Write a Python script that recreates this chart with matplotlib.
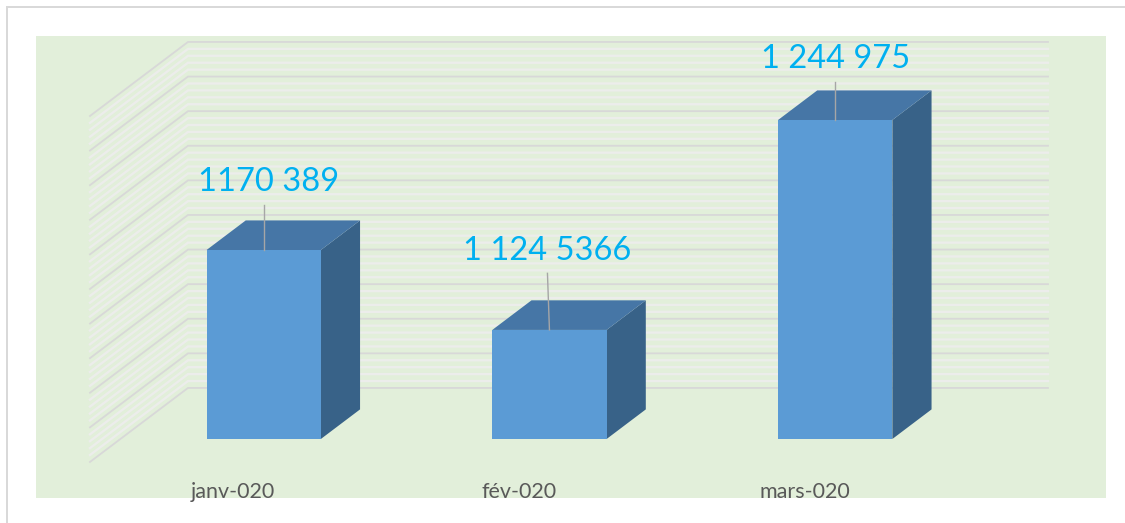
import numpy as np
from matplotlib import pyplot as plt
from matplotlib.patches import Polygon, Rectangle

months = ["janv-020", "fév-020", "mars-020"]
values = [1170389, 1124536, 1244975]
value_labels = ["1170 389", "1 124 5366", "1 244 975"]
leader_tops = [1196500, 1157000, 1267000]
leader_lean = [0.0, -0.007, 0.0]
label_shift = [0.016, -0.007, 0.0]

W, H = 1125, 523
base_value = 1061960
px_per_value = 130 / 74586
grid_step = 19850
cat_px = 285.75
cat0_px = 263.7
base_px = 439

# depth of the box, front of the walls is d=0, back wall is d=1
depth_x = 98 / cat_px
depth_y = 74 / px_per_value
bar_d0 = 0.31
bar_d1 = 0.71
bar_w = 0.4

plt.rcParams['font.family'] = ['Lato', 'DejaVu Sans']
fig = plt.figure(figsize=(W / 100, H / 100), dpi=100)
ax = fig.add_axes([0, 0, 1, 1])
ax.set_zorder(5)
ax.set_xlim(-cat0_px / cat_px, (W - cat0_px) / cat_px)
ax.set_ylim(base_value - (H - base_px) / px_per_value, base_value + base_px / px_per_value)
ax.axis('off')


def px_box(x0, y0, x1, y1, **kw):
    # x/y in figure pixels from top left, for the frame and the background
    fig.patches.append(Rectangle((x0 / W, 1 - y1 / H), (x1 - x0) / W, (y1 - y0) / H,
                                 transform=fig.transFigure, figure=fig, **kw))


def project(cat, value, d):
    return cat + (d - bar_d0) * depth_x, value + (d - bar_d0) * depth_y


px_box(36, 36, 1106, 498, facecolor='#e2efda', edgecolor='none', zorder=0)
px_box(6, 6, 8, H, facecolor='#d9d9d9', edgecolor='none', zorder=0)
px_box(6, 6, W, 8, facecolor='#d9d9d9', edgecolor='none', zorder=0)

# walls
wall_left = (90 - cat0_px) / cat_px - (0 - bar_d0) * depth_x
wall_right = (1048 - cat0_px) / cat_px - (1 - bar_d0) * depth_x
for i in range(51):
    v = base_value + i * grid_step / 5
    major = i % 5 == 0
    pts = [project(wall_left, v, 0), project(wall_left, v, 1), project(wall_right, v, 1)]
    xs, ys = zip(*pts)
    if major:
        ax.plot(xs, ys, color='#d8d8d8', lw=1.3, zorder=2, solid_joinstyle='miter')
    else:
        ax.plot(xs, ys, color='#ecedeb', lw=1.7, zorder=1, solid_joinstyle='miter')

# bars
for i, v in enumerate(values):
    l, r = i - bar_w / 2, i + bar_w / 2
    front = [project(l, base_value, bar_d0), project(r, base_value, bar_d0),
             project(r, v, bar_d0), project(l, v, bar_d0)]
    top = [project(l, v, bar_d0), project(r, v, bar_d0),
           project(r, v, bar_d1), project(l, v, bar_d1)]
    side = [project(r, base_value, bar_d0), project(r, base_value, bar_d1),
            project(r, v, bar_d1), project(r, v, bar_d0)]
    ax.add_patch(Polygon(side, facecolor='#386288', edgecolor='none', zorder=3))
    ax.add_patch(Polygon(top, facecolor='#4676a6', edgecolor='none', zorder=3))
    ax.add_patch(Polygon(front, facecolor='#5b9bd5', edgecolor='none', zorder=4))

    # leader line and value label
    ax.plot([i, i + leader_lean[i]], [v, leader_tops[i]], color='#a6a6a6', lw=1, zorder=5)
    ax.text(i + label_shift[i], leader_tops[i] + 4200, value_labels[i], color='#00b0f0',
            fontsize=23.5, ha='center', va='bottom', zorder=6)

    # month labels sit on the front edge of the floor
    tx, _ = project(i, base_value, 0)
    ax.text(tx, base_value - 53 / px_per_value, months[i], color='#595959',
            fontsize=15.5, ha='center', va='center', zorder=6)

fig.savefig('out.png', dpi=100, facecolor='white')
